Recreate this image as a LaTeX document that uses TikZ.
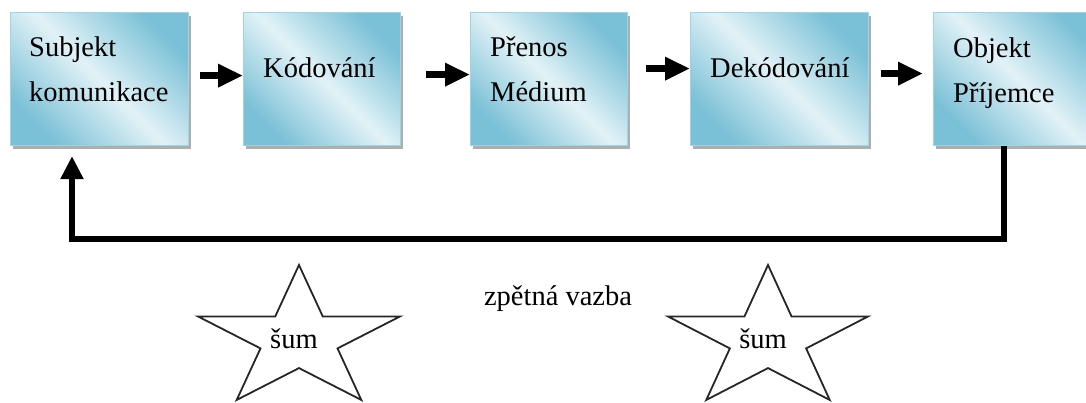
\documentclass[tikz,border=0pt]{standalone}
\usepackage{fontspec}
\setmainfont{Liberation Serif}
\usetikzlibrary{arrows.meta,shadows,calc}

\definecolor{boxdark}{RGB}{122,192,214}
\definecolor{boxlight}{RGB}{226,242,247}
\definecolor{boxedge}{RGB}{160,212,226}

\begin{document}
\begin{tikzpicture}[x=1pt,y=-1pt,
  box/.style={draw=boxedge, line width=1.2pt,
    top color=boxdark, bottom color=boxdark, middle color=boxlight,
    shading angle=-45, minimum height=133pt, anchor=north west, inner sep=0pt,
    drop shadow={shadow xshift=2pt, shadow yshift=-3.5pt, fill=black!45, opacity=0.7}},
  lbl/.style={font=\fontsize{28.5}{45}\selectfont, inner sep=0pt, anchor=base west},
  plain/.style={font=\fontsize{28.5}{34}\selectfont, inner sep=0pt, anchor=base},
  arr/.style={line width=7pt, -{Triangle[length=25pt,width=22pt]}},
  fb/.style={line width=5.5pt, line join=miter, -{Triangle[length=23pt,width=22pt]}},
  starline/.style={draw=black!85, line width=1.8pt, line join=miter}
]
\useasboundingbox (0,0) rectangle (1086,403);
\clip (0,0) rectangle (1086,403);

% boxes
\node[box, minimum width=178pt] (b1) at (10,12) {};
\node[box, minimum width=157pt] (b2) at (243,12) {};
\node[box, minimum width=157pt] (b3) at (470,12) {};
\node[box, minimum width=178pt] (b4) at (690,12) {};
\node[box, minimum width=170pt] (b5) at (933,12) {};

% box texts
\node[lbl] (t1) at (29,57) {\begin{tabular}[t]{@{}l@{}}Subjekt\\komunikace\end{tabular}};
\node[lbl] (t2) at (263,78) {Kódování};
\node[lbl] (t3) at (490,57) {\begin{tabular}[t]{@{}l@{}}Přenos\\Médium\end{tabular}};
\node[lbl] (t4) at (710,78) {Dekódování};
\node[lbl] (t5) at (953,58) {\begin{tabular}[t]{@{}l@{}}Objekt\\Příjemce\end{tabular}};

% forward arrows
\draw[arr] ($(b1.east)+(11,-3.5)$) -- ($(b2.west)+(0,-3.5)$);
\draw[arr] ($(b2.east)+(25,-4.5)$) -- ($(b3.west)+(0,-4.5)$);
\draw[arr] ($(b3.east)+(18,-10.5)$) -- ($(b4.west)+(0,-10.5)$);
\draw[arr] ($(b4.east)+(12,-5.5)$) -- ($(b5.west)+(-10,-5.5)$);

% feedback
\coordinate (fbstart) at ($(b5.south west)+(71,0)$);
\coordinate (fbend) at ($(b1.south west)+(62,10)$);
\draw[fb] (fbstart) -- ++(0,93) -| (fbend);

\node[plain] (zv) at (558,305) {zpětná vazba};

% stars
\begin{scope}[shift={(299,339.6)}, x=106pt, y=74.6pt]
  \draw[starline] (90:1) -- (126:0.382) -- (162:1) -- (198:0.382) -- (234:1)
    -- (270:0.382) -- (306:1) -- (342:0.382) -- (18:1) -- (54:0.382) -- cycle;
\end{scope}
\begin{scope}[shift={(768,339.6)}, x=105pt, y=74.6pt]
  \draw[starline] (90:1) -- (126:0.382) -- (162:1) -- (198:0.382) -- (234:1)
    -- (270:0.382) -- (306:1) -- (342:0.382) -- (18:1) -- (54:0.382) -- cycle;
\end{scope}
\node[plain] (s1) at (294,348) {šum};
\node[plain] (s2) at (763,348) {šum};
\end{tikzpicture}
\end{document}
